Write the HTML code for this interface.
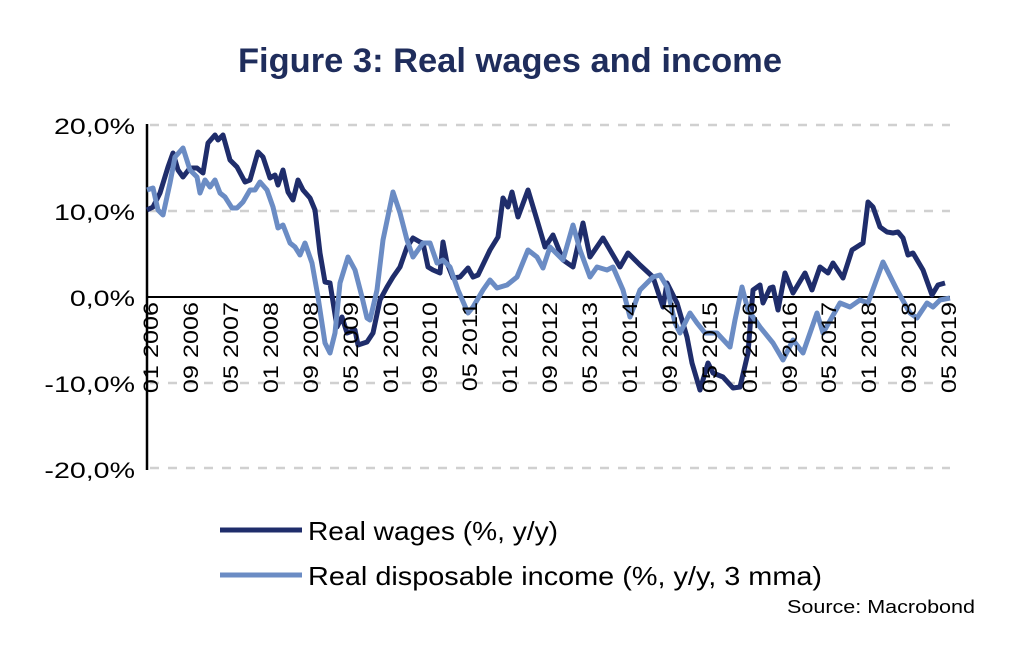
<!DOCTYPE html>
<html><head><meta charset="utf-8"><style>
body{margin:0;background:#fff;}
svg{display:block;font-family:"Liberation Sans",sans-serif;}
</style></head><body>
<svg width="1024" height="665" viewBox="0 0 1024 665" xmlns="http://www.w3.org/2000/svg">
<rect width="1024" height="665" fill="#fff"/>
<text x="238" y="72" font-size="34" font-weight="bold" fill="#1f2d5c" textLength="544" lengthAdjust="spacingAndGlyphs">Figure 3: Real wages and income</text>
<g stroke="#d0d0d0" stroke-width="2.5" stroke-dasharray="9,9">
<line x1="150" y1="125" x2="950" y2="125"/>
<line x1="150" y1="211" x2="950" y2="211"/>
<line x1="150" y1="383" x2="950" y2="383"/>
<line x1="150" y1="468" x2="950" y2="468"/>
</g>
<line x1="147" y1="124" x2="147" y2="470" stroke="#000" stroke-width="2.5"/>
<line x1="147" y1="297" x2="950" y2="297" stroke="#000" stroke-width="2"/>
<g font-size="22" fill="#000" text-anchor="end">
<text transform="translate(135,134) scale(1.3,1)">20,0%</text>
<text transform="translate(135,220) scale(1.3,1)">10,0%</text>
<text transform="translate(135,306) scale(1.3,1)">0,0%</text>
<text transform="translate(135,392) scale(1.3,1)">-10,0%</text>
<text transform="translate(135,478) scale(1.3,1)">-20,0%</text>
</g>
<polyline fill="none" stroke="#1f2d6b" stroke-width="5" stroke-linejoin="round" points="147,210 153,207 160,193 168,167 173,153 178,170 183,177 190,168 197,168 203,173 208,143 215,135 218,140 223,135 230,160 237,167 245,182 250,180 258,152 263,157 270,178 275,175 278,185 283,170 288,192 293,200 298,180 303,190 310,198 315,210 320,253 325,282 330,283 337,327 342,317 347,333 355,330 358,345 367,342 373,333 380,300 387,287 393,277 400,267 407,247 413,238 420,242 423,243 428,267 433,270 440,273 443,242 447,263 453,278 460,277 468,268 473,277 478,275 490,250 498,237 503,198 508,207 512,192 518,217 528,190 537,220 545,247 553,235 563,260 573,267 583,223 590,257 603,238 620,267 628,253 640,265 653,277 663,307 667,283 677,303 687,337 692,363 700,390 708,363 713,373 723,377 733,388 740,387 748,353 753,290 760,285 763,303 770,288 773,287 778,310 785,273 793,293 805,273 812,290 820,267 828,273 833,263 843,278 852,250 863,243 868,202 873,207 880,227 887,232 893,233 898,232 903,238 908,255 913,253 923,270 932,295 938,285 945,283"/>
<polyline fill="none" stroke="#6b8cc4" stroke-width="5" stroke-linejoin="round" points="147,190 153,188 158,210 163,215 170,183 175,157 183,148 190,170 197,177 200,193 205,180 210,187 215,180 220,193 225,197 232,208 237,208 243,202 250,190 255,190 260,182 267,190 273,207 278,228 283,225 290,243 295,247 300,255 305,243 312,263 318,297 325,343 330,353 335,333 340,283 348,257 355,270 362,297 367,318 370,320 377,290 383,240 393,192 400,213 407,240 413,257 423,243 430,243 437,263 443,260 450,267 458,290 468,313 473,307 483,290 490,280 497,288 507,285 517,277 528,250 537,257 543,268 550,247 563,260 573,225 580,250 590,277 597,267 607,270 613,267 623,290 630,317 640,290 653,277 660,275 667,287 675,323 680,333 690,313 697,323 705,333 717,333 730,347 735,320 742,287 748,310 760,327 773,343 783,360 793,340 803,353 817,313 823,333 840,303 850,307 860,300 868,303 883,262 897,290 910,313 917,318 927,303 933,307 940,300 950,298"/>
<g font-size="21" fill="#000" text-anchor="end">
<text transform="translate(158,302) rotate(-90) scale(1.2,1)">01 2006</text>
<text transform="translate(198,302) rotate(-90) scale(1.2,1)">09 2006</text>
<text transform="translate(238,302) rotate(-90) scale(1.2,1)">05 2007</text>
<text transform="translate(278,302) rotate(-90) scale(1.2,1)">01 2008</text>
<text transform="translate(318,302) rotate(-90) scale(1.2,1)">09 2008</text>
<text transform="translate(358,302) rotate(-90) scale(1.2,1)">05 2009</text>
<text transform="translate(398,302) rotate(-90) scale(1.2,1)">01 2010</text>
<text transform="translate(437,302) rotate(-90) scale(1.2,1)">09 2010</text>
<text transform="translate(477,302) rotate(-90) scale(1.2,1)">05 2011</text>
<text transform="translate(517,302) rotate(-90) scale(1.2,1)">01 2012</text>
<text transform="translate(557,302) rotate(-90) scale(1.2,1)">09 2012</text>
<text transform="translate(597,302) rotate(-90) scale(1.2,1)">05 2013</text>
<text transform="translate(637,302) rotate(-90) scale(1.2,1)">01 2014</text>
<text transform="translate(677,302) rotate(-90) scale(1.2,1)">09 2014</text>
<text transform="translate(717,302) rotate(-90) scale(1.2,1)">05 2015</text>
<text transform="translate(757,302) rotate(-90) scale(1.2,1)">01 2016</text>
<text transform="translate(797,302) rotate(-90) scale(1.2,1)">09 2016</text>
<text transform="translate(836,302) rotate(-90) scale(1.2,1)">05 2017</text>
<text transform="translate(876,302) rotate(-90) scale(1.2,1)">01 2018</text>
<text transform="translate(916,302) rotate(-90) scale(1.2,1)">09 2018</text>
<text transform="translate(956,302) rotate(-90) scale(1.2,1)">05 2019</text>
</g>
<line x1="220" y1="530" x2="302" y2="530" stroke="#1f2d6b" stroke-width="5"/>
<text x="308" y="540" font-size="26" fill="#000" textLength="250" lengthAdjust="spacingAndGlyphs">Real wages (%, y/y)</text>
<line x1="220" y1="575" x2="302" y2="575" stroke="#6b8cc4" stroke-width="5"/>
<text x="308" y="585" font-size="26" fill="#000" textLength="514" lengthAdjust="spacingAndGlyphs">Real disposable income (%, y/y, 3 mma)</text>
<text x="787" y="613" font-size="18" fill="#000" textLength="188" lengthAdjust="spacingAndGlyphs">Source: Macrobond</text>
</svg>
</body></html>
